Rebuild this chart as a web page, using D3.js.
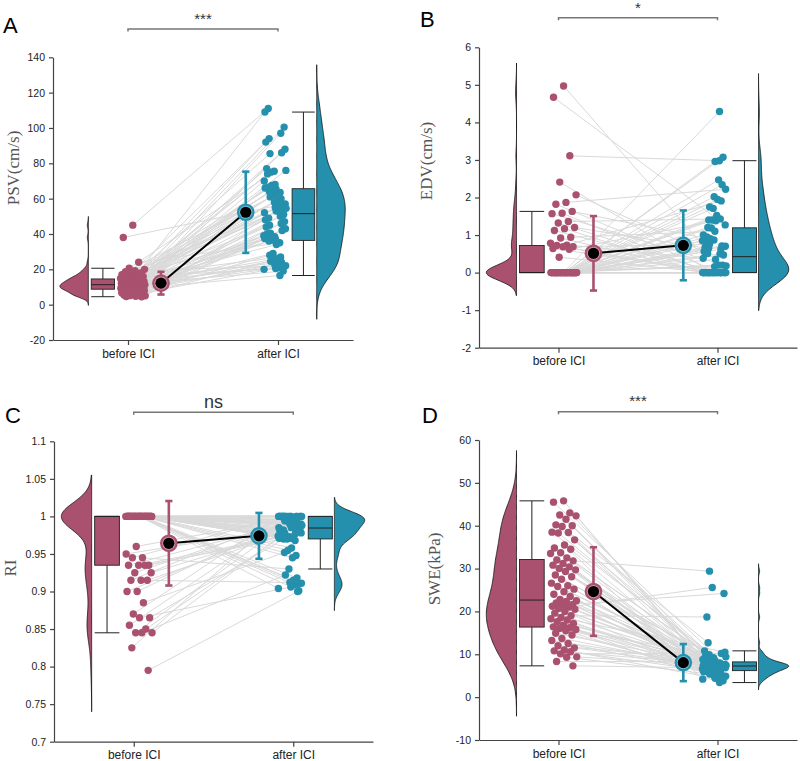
<!DOCTYPE html>
<html><head><meta charset="utf-8">
<script src="https://cdn.jsdelivr.net/npm/d3@7"></script>
<style>body{margin:0;background:#fff}svg{display:block}</style>
</head><body>
<svg id="c" width="800" height="761"></svg>
<script>
const categories = ["before ICI", "after ICI"];
const panelLetters = ["A", "B", "C", "D"];
const yLabels = ["PSV(cm/s)", "EDV(cm/s)", "RI", "SWE(kPa)"];
const sigLabels = ["***", "*", "ns", "***"];
const yTicksA = [-20, 0, 20, 40, 60, 80, 100, 120, 140];
const yTicksB = [-2, -1, 0, 1, 2, 3, 4, 5, 6];
const yTicksC = [0.7, 0.75, 0.8, 0.85, 0.9, 0.95, 1, 1.05, 1.1];
const yTicksD = [-10, 0, 10, 20, 30, 40, 50, 60];

const psvBefore = [45,38,24,20.6,20,19.2,18.6,18,17.5,17,16.7,16.3,15.9,15.6,15.3,15,14.9,14.8,14.7,14.5,14.2,14,13.8,13.6,13.3,13.1,12.9,12.7,12.5,12.3,12.1,12,11.9,11.8,11.7,11.6,11.5,11.4,11.2,11,10.8,10.6,10.4,10.2,10,9.9,9.8,9.7,9.6,9.5,9.4,9.3,9.2,9.1,9.05,9,8.8,8.6,8.3,8,7.8,7.6,7.3,7,6.8,6.5,6.2,6,5.8,5.5,5.3,5.1,5,4.8,4.6,4.5];
const psvAfter = [111,57,35,75.5,49,22,63.5,38.5,94,54.5,27,68,45,20,60,37,85.5,52,24,65.5,40.5,109,56,34,75,48,21.5,63,38,92,54,26,67.5,44,19,59,36.5,77,51,23,65,40,100.5,55.5,29,74,47,21,62,37.8,88,53.5,25,66.5,43,16.5,58,36,76,50,22.5,64,39,97,55,28,70,46,20.5,61,37.5,86,53,24.5,66,42];

const edvBefore = [4.97,4.67,3.11,2.41,2.07,1.87,1.82,1.63,1.58,1.57,
1.36,1.32,1.2,1.17,1.12,0.94,0.92,0.78,0.73,0.72,
0.69,0.69,0.64,0.62,0.41,0,0,0,0,0,
0,0,0,0,0,0,0,0,0,0,
0,0,0,0,0,0,0,0,0,0,
0,0,0,0,0,0,0,0,0,0,
0,0,0,0,0,0,0,0,0,0,
0,0,0,0,0,0];
const edvAfter = [0.6,1.27,2.98,0,0.51,2.22,0,0.87,0,0.18,
1.43,0,0.64,0,0,1.1,0,0.38,1.91,0,
0.75,0,0,1.38,0,0.56,2.34,0,0.9,0,
0.2,1.52,0,0.67,3.07,0,1.19,0,0.47,1.95,
0,0.8,0,0,1.4,0,0,2.47,0,0.95,
0,0.2,1.71,0,0.7,4.29,0,1.2,0,0.5,
2.02,0,0.85,0,0.16,1.4,0,0.62,2.96,0,
1.0,0,0.35,1.75,0,0.71];

const riBefore = [1,1,1,1,1,1,1,1,1,1,
1,1,1,1,1,1,1,1,1,1,
1,1,1,1,1,1,1,1,1,1,
1,1,1,1,1,1,1,1,1,1,
1,1,1,1,1,1,1,1,1,1,
0.96,0.95,0.945,0.945,0.935,0.935,0.935,0.935,0.925,0.925,
0.915,0.915,0.915,0.9,0.9,0.885,0.87,0.865,0.865,0.855,
0.85,0.845,0.845,0.845,0.825,0.795];
const riAfter = [1,0.99,0.968,1,0.982,0.911,0.996,0.973,1,0.988,
0.948,1,0.979,0.904,0.993,0.971,1,0.985,0.918,1,
0.976,1,0.99,0.958,1,0.981,0.91,0.995,0.972,1,
0.987,0.945,1,0.978,0.901,0.992,0.97,1,0.984,0.915,
0.998,0.975,1,0.99,0.955,1,0.98,0.909,0.995,0.971,
1,0.986,0.93,1,0.978,0.977,0.991,0.97,1,0.983,
0.912,0.997,0.974,1,0.989,0.952,1,0.98,0.906,0.994,
0.971,1,0.985,0.922,1,0.9];

const sweBefore = [45.8,45.5,43,42.5,42.3,41.5,40.2,40,39.8,38.5,38.4,38.3,36.7,35.5,34.8,34.5,33.7,33.5,32.5,32,31.8,31.2,30.8,30.4,30,29.7,29.3,28.5,28.1,27.5,26.6,26,25.8,25.2,24.6,24,23.5,22.8,22.5,22.3,22,21.6,21.5,21.2,21,20.7,20.5,20,19.6,19,18.6,18.3,18,17.6,17.2,16.8,16.4,16.2,16,15.8,15.5,14.9,14.5,13.7,13.2,12.5,12,11.5,11,10.8,10.6,10.1,9.4,9.3,8.3,7.3];
const sweAfter = [6.75,7.6,6.1,9.2,7.15,4.9,7.95,6.5,12.7,7.4,5.7,8.7,6.95,4.2,7.75,6.25,9.9,7.28,5.3,8.2,29.4,5.9,7.55,6,9,7.1,4.7,7.9,6.45,10.8,7.35,5.6,8.5,6.9,3.8,7.7,6.2,9.6,7.25,5.2,8.1,6.7,24.2,7.5,25.6,8.9,7.05,4.5,7.85,18.7,10.5,7.3,5.5,8.4,6.85,3.4,7.65,6.15,9.4,7.2,5,8.0,6.6,6.4,7.45,5.8,8.8,7,4.4,7.8,6.3,10.2,7.3,5.4,8.3,6.8];

const colors = ["#A9516F", "#2590AD"];
const lightColors = ["#D08FA6", "#6FBBD2"];

const layout = [
  {x0:53, x1:353, yTop:57.3, yBot:340, letter:[3,33], label:[18.5,168], bracket:29, sig:23.5, sigSize:15},
  {x0:479, x1:797, yTop:47.3, yBot:347.7, letter:[420,27], label:[432,161], bracket:17.7, sig:12.5, sigSize:15},
  {x0:54, x1:373, yTop:441.3, yBot:741.7, letter:[5,423], label:[16,568], bracket:412.3, sig:408, sigSize:18},
  {x0:479, x1:797, yTop:440, yBot:740, letter:[422,423], label:[440,569], bracket:411.7, sig:405.5, sigSize:15}
];
const datasets = [
  {before:psvBefore, after:psvAfter, ticks:yTicksA},
  {before:edvBefore, after:edvAfter, ticks:yTicksB},
  {before:riBefore, after:riAfter, ticks:yTicksC},
  {before:sweBefore, after:sweAfter, ticks:yTicksD}
];

const FONT = "'Liberation Sans', Arial, sans-serif";
const svg = d3.select("#c");

function stats(v){
  const s = v.slice().sort(d3.ascending);
  const q1 = d3.quantileSorted(s,0.25), med = d3.quantileSorted(s,0.5), q3 = d3.quantileSorted(s,0.75);
  const iqr = q3 - q1;
  const lo = d3.min(s.filter(d => d >= q1 - 1.5*iqr));
  const hi = d3.max(s.filter(d => d <= q3 + 1.5*iqr));
  return {q1, med, q3, iqr, lo, hi, mean:d3.mean(s), sd:d3.deviation(s), min:s[0], max:s[s.length-1]};
}
function kde(v, st){
  const spread = Math.min(st.sd, st.iqr/1.34 || st.sd);
  const bw = 0.9*spread*Math.pow(v.length, -0.2);
  const lo = st.min - 3*bw, hi = st.max + 3*bw;
  return d3.range(241).map(i => {
    const t = lo + (hi-lo)*i/240;
    return [t, d3.mean(v, x => Math.exp(-0.5*((t-x)/bw)**2))];
  });
}
const jitA = i => ((i*0.6180339887 + 0.5) % 1)*2 - 1;
const jitB = i => ((i*0.7548776662 + 0.2) % 1)*2 - 1;

datasets.forEach((d, k) => {
  const p = layout[k];
  const g = svg.append("g");
  const xs = d3.scaleLinear().domain([-0.5, 1.5]).range([p.x0, p.x1]);
  const ys = d3.scaleLinear().domain([d.ticks[0], d.ticks[d.ticks.length-1]]).range([p.yBot, p.yTop]);
  const step = xs(1) - xs(0);
  const sb = stats(d.before), sa = stats(d.after);
  const n = Math.min(d.before.length, d.after.length);
  const bx = d.before.map((v,i) => xs(0.032 + 0.083*jitA(i)));
  const ax = d.after.map((v,i) => xs(0.98 + 0.075*jitB(i)));

  const yAxis = g.append("g").attr("transform", `translate(${p.x0},0)`)
    .call(d3.axisLeft(ys).tickValues(d.ticks).tickSize(4).tickSizeOuter(0).tickPadding(4).tickFormat(t => String(t)));
  const xAxis = g.append("g").attr("transform", `translate(0,${p.yBot})`)
    .call(d3.axisBottom(xs).tickValues([0,1]).tickSize(5).tickSizeOuter(0).tickPadding(4).tickFormat(i => categories[i]));
  [yAxis, xAxis].forEach(a => {
    a.select(".domain").attr("stroke", "#444").attr("stroke-width", 1.2);
    a.selectAll(".tick line").attr("stroke", "#444").attr("stroke-width", 1.2);
    a.selectAll("text").attr("fill", "#222").attr("font-family", FONT);
  });
  yAxis.selectAll("text").attr("font-size", 10.5);
  xAxis.selectAll("text").attr("font-size", 12);

  g.append("g").selectAll("line").data(d3.range(n)).join("line")
    .attr("x1", i => bx[i]).attr("y1", i => ys(d.before[i]))
    .attr("x2", i => ax[i]).attr("y2", i => ys(d.after[i]))
    .attr("stroke", "#d9d9d9").attr("stroke-width", 1);

  [[d.before, sb, -0.264, -1, 0], [d.after, sa, 1.258, 1, 1]].forEach(([v, st, off, dir, c]) => {
    const dens = kde(v, st);
    const dmax = d3.max(dens, e => e[1]);
    const base = xs(off), w = 0.19*step;
    const area = d3.area().y(e => ys(e[0])).x0(base).x1(e => base + dir*w*e[1]/dmax);
    g.append("path").datum(dens).attr("d", area)
      .attr("fill", colors[c]).attr("stroke", "#111").attr("stroke-width", 0.8);
  });

  [[sb, -0.245, -0.09, 0], [sa, 1.094, 1.245, 1]].forEach(([st, a, b, c]) => {
    const xa = xs(a), xb = xs(b), xm = (xa + xb)/2;
    const bg = g.append("g").attr("stroke", "#222").attr("stroke-width", 1);
    bg.append("line").attr("x1", xm).attr("x2", xm).attr("y1", ys(st.q3)).attr("y2", ys(st.hi));
    bg.append("line").attr("x1", xm).attr("x2", xm).attr("y1", ys(st.q1)).attr("y2", ys(st.lo));
    bg.append("line").attr("x1", xa).attr("x2", xb).attr("y1", ys(st.hi)).attr("y2", ys(st.hi));
    bg.append("line").attr("x1", xa).attr("x2", xb).attr("y1", ys(st.lo)).attr("y2", ys(st.lo));
    bg.append("rect").attr("x", xa).attr("width", xb - xa)
      .attr("y", ys(st.q3)).attr("height", ys(st.q1) - ys(st.q3))
      .attr("fill", colors[c]).attr("stroke-width", 0.9);
    bg.append("line").attr("x1", xa).attr("x2", xb).attr("y1", ys(st.med)).attr("y2", ys(st.med));
  });

  g.append("g").selectAll("circle").data(d.before).join("circle")
    .attr("cx", (v,i) => bx[i]).attr("cy", v => ys(v)).attr("r", 3.7).attr("fill", colors[0]);
  g.append("g").selectAll("circle").data(d.after).join("circle")
    .attr("cx", (v,i) => ax[i]).attr("cy", v => ys(v)).attr("r", 3.7).attr("fill", colors[1]);

  const mb = [xs(0.22), sb], ma = [xs(0.785), sa];
  [mb, ma].forEach(([x, st], c) => {
    const eg = g.append("g").attr("stroke", colors[c]).attr("stroke-width", 2.6);
    eg.append("line").attr("x1", x).attr("x2", x).attr("y1", ys(st.mean - st.sd)).attr("y2", ys(st.mean + st.sd));
    [st.mean - st.sd, st.mean + st.sd].forEach(vv =>
      eg.append("line").attr("x1", x - 3.6).attr("x2", x + 3.6).attr("y1", ys(vv)).attr("y2", ys(vv)));
  });
  g.append("line").attr("x1", mb[0]).attr("y1", ys(sb.mean)).attr("x2", ma[0]).attr("y2", ys(sa.mean))
    .attr("stroke", "#000").attr("stroke-width", 2);
  [mb, ma].forEach(([x, st], c) => {
    g.append("circle").attr("cx", x).attr("cy", ys(st.mean)).attr("r", 8.8).attr("fill", colors[c]);
    g.append("circle").attr("cx", x).attr("cy", ys(st.mean)).attr("r", 6.6).attr("fill", lightColors[c]);
    g.append("circle").attr("cx", x).attr("cy", ys(st.mean)).attr("r", 5.6).attr("fill", "#000");
  });

  const bxL = xs(0), bxR = xs(1);
  g.append("path").attr("d", `M${bxL},${p.bracket+2.5}V${p.bracket}H${bxR}V${p.bracket+2.5}`)
    .attr("fill", "none").attr("stroke", "#777").attr("stroke-width", 1.5);
  g.append("text").attr("x", (bxL + bxR)/2).attr("y", p.sig).attr("text-anchor", "middle")
    .attr("font-family", FONT).attr("font-size", p.sigSize).attr("fill", "#333").text(sigLabels[k]);

  g.append("text").attr("x", p.letter[0]).attr("y", p.letter[1]).attr("font-family", FONT)
    .attr("font-size", 22).attr("fill", "#000").text(panelLetters[k]);
  g.append("text").attr("transform", `translate(${p.label[0]},${p.label[1]}) rotate(-90)`)
    .attr("text-anchor", "middle").attr("font-family", "'Liberation Serif', 'Times New Roman', serif")
    .attr("font-size", 17).attr("fill", "#555").text(yLabels[k]);
});
</script>
</body></html>
